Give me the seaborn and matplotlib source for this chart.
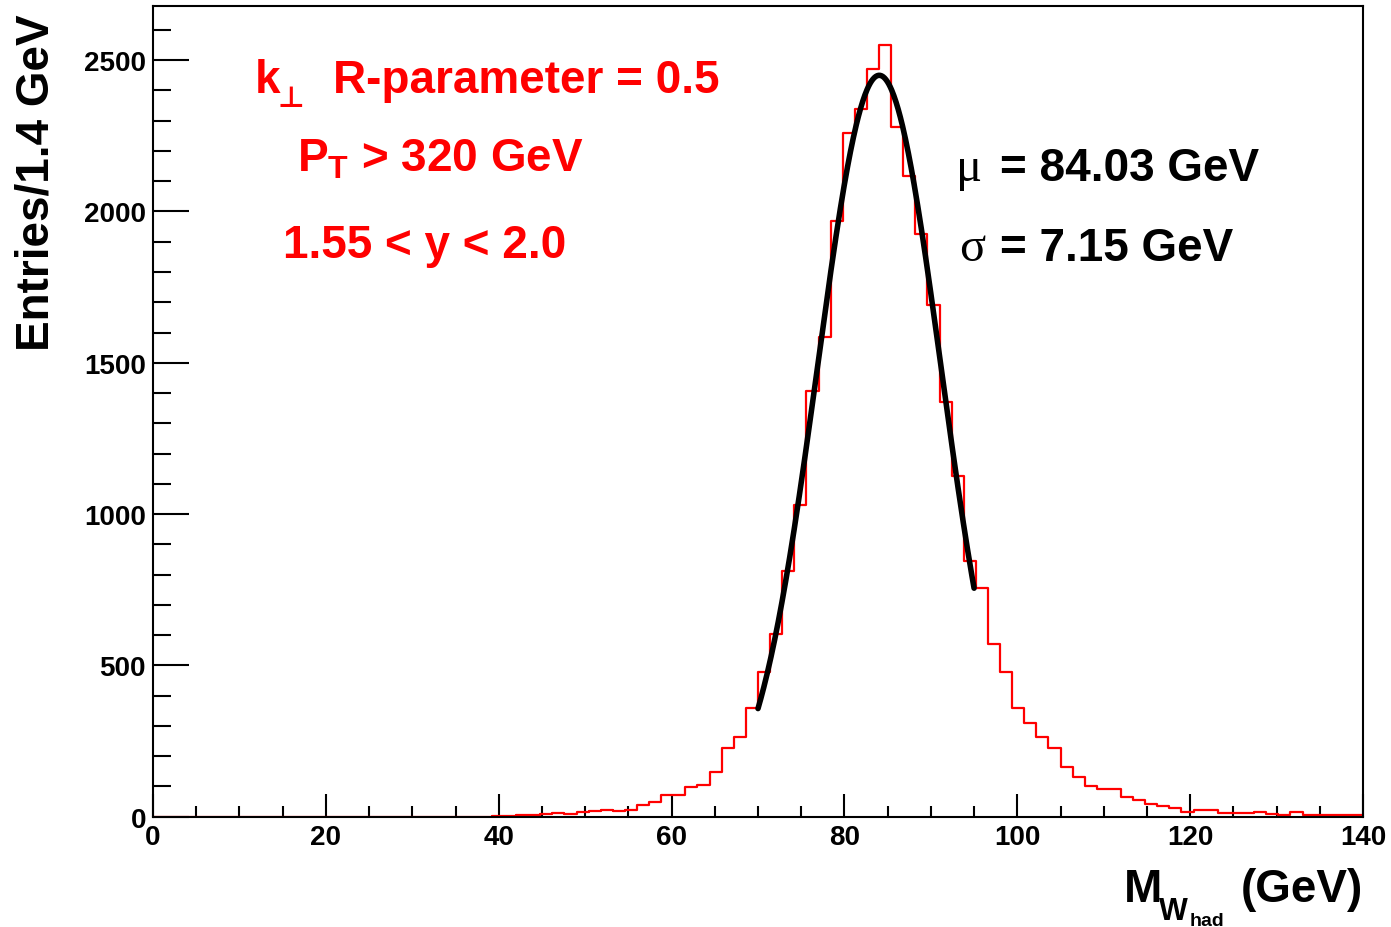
import numpy as np
import pandas as pd
import seaborn as sns
import matplotlib.pyplot as plt
from matplotlib.ticker import MultipleLocator

# Hadronic W mass, 100 bins of 1.4 GeV between 0 and 140 GeV
bin_width = 1.4
mass_range = (0, 140)
counts = ([0] * 28 +
          [1, 2, 4, 4, 8, 12, 10, 14, 18, 22,
           18, 22, 40, 50, 72, 72, 98, 105, 148, 228,
           263, 360, 478, 604, 811, 1031, 1406, 1584, 1967, 2259,
           2339, 2470, 2551, 2279, 2116, 1926, 1690, 1371, 1125, 846,
           756, 571, 478, 360, 311, 264, 226, 165, 131, 101,
           91, 91, 66, 55, 43, 35, 28, 17, 21, 21,
           12, 12, 12, 17, 10, 6, 14, 5, 5, 5, 5, 5])

# Gaussian fit result
fit_mu = 84.03
fit_sigma = 7.15
fit_amp = 2450
fit_lo, fit_hi = 70, 95

centers = mass_range[0] + bin_width * (np.arange(len(counts)) + 0.5)
df = pd.DataFrame({'mass': centers, 'entries': counts})

sns.set_style('ticks')
plt.rcParams['font.family'] = ['Liberation Sans', 'DejaVu Sans']
plt.rcParams['font.weight'] = 'bold'
plt.rcParams['text.color'] = 'black'
plt.rcParams['mathtext.fontset'] = 'custom'
plt.rcParams['mathtext.rm'] = 'Liberation Sans:bold'
plt.rcParams['mathtext.it'] = 'Liberation Sans:bold'
plt.rcParams['mathtext.bf'] = 'Liberation Sans:bold'
plt.rcParams['mathtext.fallback'] = 'stixsans'

W, H = 1391, 928
fig = plt.figure(figsize=(W / 100, H / 100), dpi=100)
ax = fig.add_axes([153 / W, 1 - 817.7 / H, 1210 / W, (817.7 - 7.3) / H])


def px(x, y):
    return x / W, 1 - y / H


sns.histplot(data=df, x='mass', weights='entries', binwidth=bin_width, binrange=mass_range,
             element='step', fill=False, color='red', linewidth=1.6, ax=ax)

fit_x = np.linspace(fit_lo, fit_hi, 300)
fit_y = fit_amp * np.exp(-0.5 * ((fit_x - fit_mu) / fit_sigma) ** 2)
sns.lineplot(x=fit_x, y=fit_y, color='black', linewidth=4, ax=ax)

ax.set_xlim(0, 140)
ax.set_ylim(0, 2678)
ax.set_xlabel('')
ax.set_ylabel('')
ax.xaxis.set_major_locator(MultipleLocator(20))
ax.xaxis.set_minor_locator(MultipleLocator(5))
ax.yaxis.set_major_locator(MultipleLocator(500))
ax.yaxis.set_minor_locator(MultipleLocator(100))
ax.tick_params(which='both', direction='in', top=False, right=False, width=1.5,
               labelsize=20, colors='black')
ax.tick_params(axis='x', which='major', length=16.5, pad=5)
ax.tick_params(axis='x', which='minor', length=8)
ax.tick_params(axis='y', which='major', length=26, pad=5)
ax.tick_params(axis='y', which='minor', length=13)
for s in ax.spines.values():
    s.set_visible(True)
    s.set_linewidth(1.5)
    s.set_color('black')

# axis titles, ROOT style
fig.text(*px(37, 14), 'Entries/1.4 GeV', rotation=90, ha='center', va='top',
         fontsize=33, fontweight='bold', color='black')
fig.text(*px(1124, 902), 'M', fontsize=33, fontweight='bold', va='baseline', color='black')
fig.text(*px(1159, 920), 'W', fontsize=22, fontweight='bold', va='baseline', color='black')
fig.text(*px(1190, 926), 'had', fontsize=14, fontweight='bold', va='baseline', color='black')
fig.text(*px(1363, 902), '(GeV)', ha='right', va='baseline',
         fontsize=33, fontweight='bold', color='black')

# selection labels
red = dict(color='red', fontsize=33, fontweight='bold', va='baseline', ha='left')
fig.text(*px(255, 93), 'k', **red)
fig.text(*px(278, 107), '⊥', color='red', fontsize=21, family='DejaVu Sans',
         va='baseline', ha='left')
fig.text(*px(333, 93), 'R-parameter = 0.5', **red)
fig.text(*px(297, 172), r'$P_T$ > 320 GeV', **red)
fig.text(*px(283, 258), '1.55 < y < 2.0', **red)

# fit results
fig.text(*px(956, 181), 'μ', family='Liberation Serif', fontweight='normal',
         fontsize=35, va='baseline', color='black')
fig.text(*px(1000, 181), '= 84.03 GeV', fontsize=33, fontweight='bold', va='baseline',
         color='black')
fig.text(*px(959, 261), 'σ', family='Liberation Serif', fontweight='normal',
         fontsize=35, va='baseline', color='black')
fig.text(*px(1000, 261), '= 7.15 GeV', fontsize=33, fontweight='bold', va='baseline',
         color='black')

fig.savefig('out.png', dpi=100)
